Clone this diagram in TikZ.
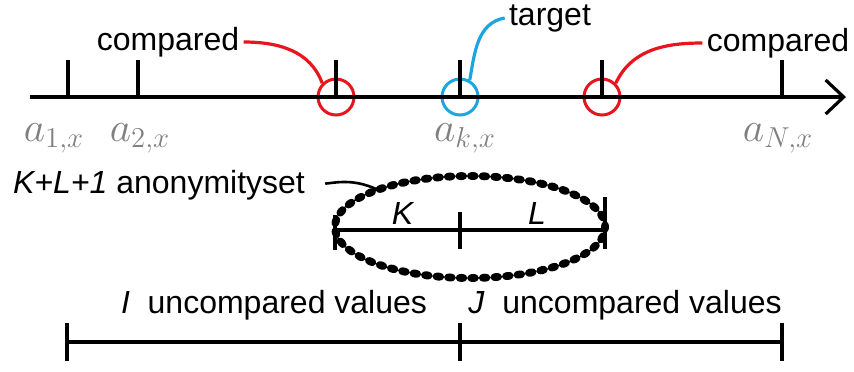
\documentclass[tikz,border=0pt]{standalone}
\usepackage{fontspec}
\setmainfont{Liberation Sans}
\usepackage{amsmath}
\usepackage{xcolor}
\usetikzlibrary{positioning}
\usetikzlibrary{arrows.meta}
\usetikzlibrary{shapes.geometric}
\usetikzlibrary{decorations.markings}
\pgfdeclarelayer{nodelayer}
\pgfdeclarelayer{edgelayer}
\pgfsetlayers{nodelayer,edgelayer,main}
\definecolor{hitred}{HTML}{E8141E}
\definecolor{hitblue}{HTML}{1EA5E0}
\tikzset{
    none/.style = {inner sep=0pt},
    word/.style = {inner sep=2pt, font=\fontsize{16}{19}\selectfont},
    axislabel/.style = {inner sep=0pt, text=black!50, font=\fontsize{22}{25}\selectfont},
    ring/.style = {circle, draw, line width=1.5pt, minimum size=18pt, inner sep=0pt},
    tick/.style = {line width=1.6pt},
    pointer/.style = {line width=1.6pt},
    beads/.style = {decoration={markings,
        mark=between positions 0 and 1 step 5.8pt with {\fill (0,0) ellipse [x radius=3pt, y radius=2pt];}},
        decorate}
}

\begin{document}
\begin{tikzpicture}[x=50pt, y=50pt]
    \useasboundingbox (0,0) rectangle (8.54,-3.71);
    \begin{pgfonlayer}{nodelayer}
        % number line and its ticks
        \node [style=none] (0) at (0.30, -0.97) {};
        \node [style=none] (1) at (8.46, -0.97) {};
        \node [style=none] (2) at (0.68, -0.97) {};
        \node [style=none] (3) at (0.68, -0.60) {};
        \node [style=none] (4) at (1.38, -0.97) {};
        \node [style=none] (5) at (1.38, -0.60) {};
        \node [style=none] (6) at (3.36, -0.97) {};
        \node [style=none] (7) at (3.36, -0.60) {};
        \node [style=none] (8) at (4.60, -0.97) {};
        \node [style=none] (9) at (4.60, -0.60) {};
        \node [style=none] (10) at (6.02, -0.97) {};
        \node [style=none] (11) at (6.02, -0.60) {};
        \node [style=none] (12) at (7.82, -0.97) {};
        \node [style=none] (13) at (7.82, -0.60) {};
        \node [ring, draw=hitred] (14) at (3.36, -0.97) {};
        \node [ring, draw=hitblue] (15) at (4.60, -0.97) {};
        \node [ring, draw=hitred] (16) at (6.02, -0.97) {};
        \node [axislabel] (17) at (0.54, -1.38) {$a_{1,x}$};
        \node [axislabel] (18) at (1.40, -1.38) {$a_{2,x}$};
        \node [axislabel] (19) at (4.65, -1.38) {$a_{k,x}$};
        \node [axislabel] (20) at (7.78, -1.38) {$a_{N,x}$};
        \node [word] (21) at (1.68, -0.42) {compared};
        \node [word] (22) at (5.50, -0.18) {target};
        \node [word] (23) at (7.78, -0.43) {compared};
        % anonymity set
        \node [word] (24) at (1.59, -1.85) {\textit{K+L+1} anonymityset};
        \node [ellipse, minimum width=135pt, minimum height=51pt, inner sep=0pt] (25) at (4.70, -2.27) {};
        \node [style=none] (26) at (3.35, -2.30) {};
        \node [style=none] (27) at (6.05, -2.30) {};
        \node [style=none] (28) at (3.35, -2.15) {};
        \node [style=none] (29) at (3.35, -2.50) {};
        \node [style=none] (30) at (4.60, -2.12) {};
        \node [style=none] (31) at (4.60, -2.49) {};
        \node [style=none] (33) at (6.05, -1.97) {};
        \node [style=none] (34) at (6.05, -2.49) {};
        \node [word] (35) at (4.03, -2.13) {\textit{K}};
        \node [word] (36) at (5.37, -2.13) {\textit{L}};
        % uncompared ranges
        \node [style=none] (37) at (0.67, -3.42) {};
        \node [style=none] (38) at (7.82, -3.42) {};
        \node [style=none] (39) at (0.67, -3.23) {};
        \node [style=none] (40) at (0.67, -3.61) {};
        \node [style=none] (41) at (4.60, -3.23) {};
        \node [style=none] (42) at (4.60, -3.61) {};
        \node [style=none] (43) at (7.82, -3.23) {};
        \node [style=none] (44) at (7.82, -3.61) {};
        \node [word] (45) at (2.74, -3.05) {\textit{I}~~uncompared values};
        \node [word] (46) at (6.25, -3.05) {\textit{J}~~uncompared values};
    \end{pgfonlayer}
    \begin{pgfonlayer}{edgelayer}
        \draw [tick, -{Straight Barb[length=9pt, width=17pt]}] (0.center) to (1.center);
        \draw [tick] (2.center) to (3.center);
        \draw [tick] (4.center) to (5.center);
        \draw [tick] (6.center) to (7.center);
        \draw [tick] (8.center) to (9.center);
        \draw [tick] (10.center) to (11.center);
        \draw [tick] (12.center) to (13.center);
        % pointers to the circled values
        \draw [pointer, hitred] (21.east) to [out=0, in=110] (14.135);
        \draw [pointer, hitblue] (22.west) to [out=190, in=80] (15.60);
        \draw [pointer, hitred] (23.west) to [out=180, in=65] (16.45);
        \draw [line width=1.3pt, shorten <=8pt] (24.east) to [out=5, in=155] (25.158);
        % beaded ring round the K and L values
        \path [beads] (25.center) ellipse [x radius=67.5pt, y radius=25.5pt];
        \draw [tick] (26.center) to (27.center);
        \draw [tick] (28.center) to (29.center);
        \draw [tick] (30.center) to (31.center);
        \draw [tick] (33.center) to (34.center);
        \draw [tick] (37.center) to (38.center);
        \draw [tick] (39.center) to (40.center);
        \draw [tick] (41.center) to (42.center);
        \draw [tick] (43.center) to (44.center);
    \end{pgfonlayer}
\end{tikzpicture}
\end{document}
